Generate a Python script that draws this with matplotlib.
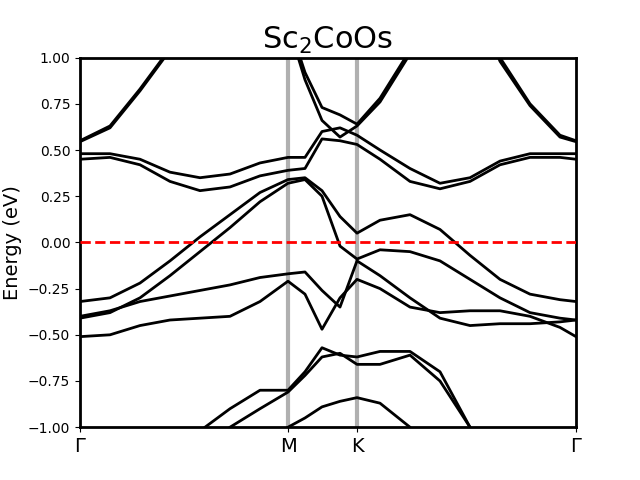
import numpy as np
import matplotlib
matplotlib.use("Agg")
import matplotlib.pyplot as plt

# k-path positions (Gamma - M - K - Gamma)
k_ticks = [0.0, 2.08, 2.77, 4.96]
k_labels = ["Γ", "M", "K", "Γ"]

# k sample points along path
k = [0.0, 0.30, 0.60, 0.90, 1.20, 1.50, 1.80, 2.08, 2.25, 2.42, 2.60, 2.77,
     3.00, 3.30, 3.60, 3.90, 4.20, 4.50, 4.80, 4.96]

band_a1 = [0.55, 0.63, 0.83, 1.05, 1.30, 1.50, 1.50, 1.20, 0.92, 0.73, 0.69, 0.64,
           0.78, 1.04, 1.30, 1.40, 1.00, 0.75, 0.58, 0.55]
band_a2 = [0.545, 0.62, 0.82, 1.04, 1.29, 1.50, 1.50, 1.18, 0.88, 0.66, 0.57, 0.63,
           0.76, 1.02, 1.28, 1.38, 0.98, 0.74, 0.57, 0.545]
band_b = [0.48, 0.48, 0.45, 0.38, 0.35, 0.37, 0.43, 0.46, 0.46, 0.60, 0.62, 0.58,
          0.50, 0.40, 0.32, 0.35, 0.44, 0.48, 0.48, 0.48]
band_c = [0.45, 0.46, 0.42, 0.33, 0.28, 0.30, 0.36, 0.39, 0.40, 0.56, 0.55, 0.53,
          0.45, 0.33, 0.29, 0.33, 0.42, 0.46, 0.46, 0.45]
band_d = [-0.32, -0.30, -0.22, -0.10, 0.03, 0.15, 0.27, 0.34, 0.35, 0.28, 0.14, 0.05,
          0.12, 0.15, 0.07, -0.07, -0.20, -0.28, -0.31, -0.32]
band_e = [-0.41, -0.38, -0.30, -0.18, -0.05, 0.08, 0.22, 0.32, 0.34, 0.25, -0.02, -0.09,
          -0.04, -0.05, -0.10, -0.20, -0.30, -0.38, -0.41, -0.42]
band_f = [-0.40, -0.37, -0.32, -0.29, -0.26, -0.23, -0.19, -0.17, -0.16, -0.26, -0.35, -0.10,
          -0.18, -0.30, -0.41, -0.45, -0.44, -0.44, -0.43, -0.42]
band_g = [-0.51, -0.50, -0.45, -0.42, -0.41, -0.40, -0.32, -0.21, -0.28, -0.47, -0.30, -0.20,
          -0.25, -0.35, -0.38, -0.37, -0.37, -0.40, -0.46, -0.51]
band_h = [-1.6, -1.5, -1.4, -1.2, -1.02, -0.90, -0.80, -0.80, -0.70, -0.57, -0.61, -0.62,
          -0.59, -0.59, -0.70, -1.0, -1.2, -1.4, -1.5, -1.6]
band_i = [-1.7, -1.6, -1.5, -1.3, -1.15, -1.0, -0.90, -0.81, -0.72, -0.62, -0.60, -0.66,
          -0.66, -0.61, -0.75, -1.0, -1.25, -1.45, -1.6, -1.7]
band_j = [-2.0, -1.9, -1.8, -1.6, -1.4, -1.25, -1.1, -1.0, -0.95, -0.89, -0.86, -0.84,
          -0.87, -1.0, -1.2, -1.4, -1.6, -1.8, -1.9, -2.0]

bands = [band_a1, band_a2, band_b, band_c, band_d, band_e, band_f, band_g,
         band_h, band_i, band_j]

fig, ax = plt.subplots(figsize=(6.4, 4.8))
for x in k_ticks[1:-1]:
    ax.axvline(x, color="#b0b0b0", lw=3, zorder=1)
for b in bands:
    ax.plot(k, b, color="black", lw=2, zorder=2)
ax.axhline(0, color="red", ls="--", lw=2, zorder=3)

ax.set_xlim(k_ticks[0], k_ticks[-1])
ax.set_ylim(-1, 1)
ax.set_xticks(k_ticks)
ax.set_xticklabels(k_labels, fontsize=14)
ax.set_ylabel("Energy (eV)", fontsize=14)
ax.set_title("Sc$_2$CoOs", fontsize=22)
for s in ax.spines.values():
    s.set_linewidth(2)
plt.savefig("out.png", dpi=100)
